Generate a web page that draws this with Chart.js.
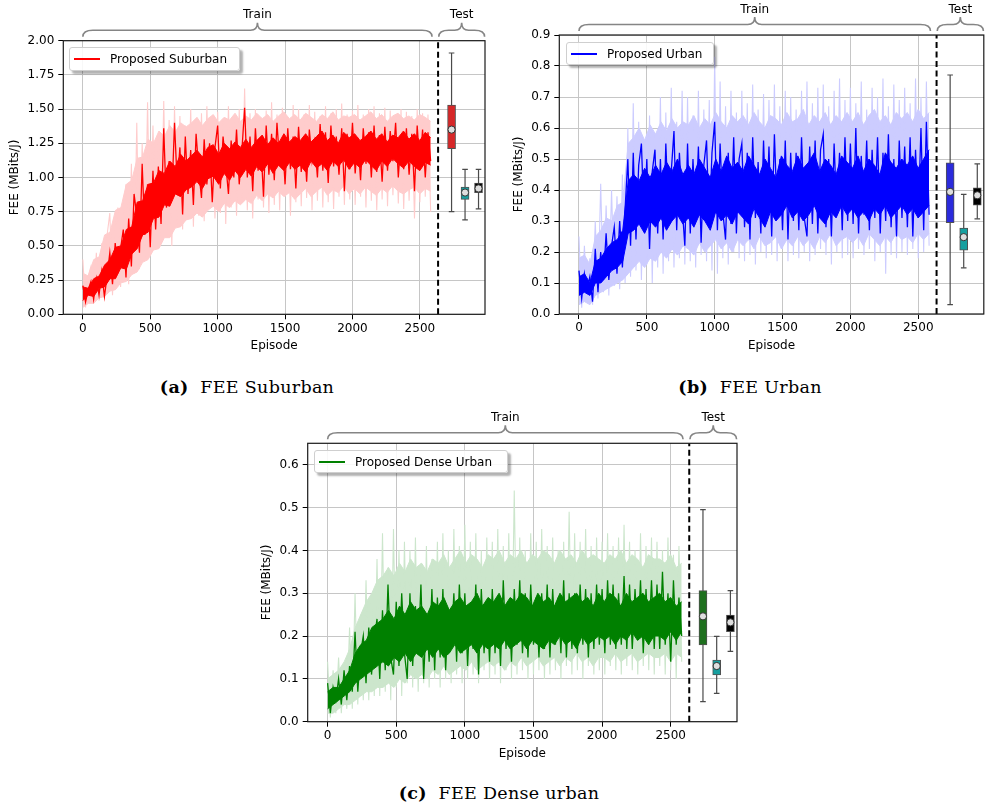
<!DOCTYPE html>
<html><head><meta charset="utf-8">
<script src="https://cdn.jsdelivr.net/npm/chart.js@4.4.1/dist/chart.umd.min.js"></script>
<style>
body{margin:0;width:989px;height:810px;background:#fff;position:relative;overflow:hidden;font-family:"DejaVu Sans",sans-serif;}
canvas{position:absolute;}
.leg{position:absolute;background:rgba(255,255,255,0.88);border:1px solid #cfcfcf;border-radius:3px;box-shadow:3px 3px 2px rgba(0,0,0,0.3);font-size:12px;box-sizing:border-box;display:flex;align-items:center;color:#000;white-space:nowrap;}
.leg .ln{width:26px;height:2px;margin:0 10px 0 4px;flex:none;}
.cap{position:absolute;font-family:"DejaVu Serif",serif;font-size:17.5px;letter-spacing:0.3px;line-height:20px;text-align:center;white-space:nowrap;width:300px;color:#000;}
.cap b{font-weight:bold;}
</style></head><body>
<canvas id="cA" width="500" height="360" style="left:0;top:0"></canvas>
<canvas id="cB" width="489" height="360" style="left:500px;top:0"></canvas>
<canvas id="cC" width="500" height="370" style="left:250px;top:400px"></canvas>
<div class="leg" style="left:69px;top:47px;width:171px;height:24px"><span class="ln" style="background:#ff0000"></span>Proposed Suburban</div>
<div class="leg" style="left:566px;top:42px;width:148px;height:23px"><span class="ln" style="background:#0000ff"></span>Proposed Urban</div>
<div class="leg" style="left:314px;top:450px;width:194px;height:23px"><span class="ln" style="background:#008000"></span>Proposed Dense Urban</div>
<div class="cap" style="left:97px;top:377px"><b>(a)</b>&nbsp; FEE Suburban</div>
<div class="cap" style="left:600px;top:377px"><b>(b)</b>&nbsp; FEE Urban</div>
<div class="cap" style="left:349px;top:783px"><b>(c)</b>&nbsp; FEE Dense urban</div>
<script>
// ---------------- data ----------------
const STEP = 20;          // episodes between stored spike samples
const ENV_STEP = 40.3125; // episodes between stored band-envelope samples
const episodeTicks = [0, 500, 1000, 1500, 2000, 2500];
const yTicksSuburban = [0, 0.25, 0.5, 0.75, 1.0, 1.25, 1.5, 1.75, 2.0];
const yTicksUrban = [0, 0.1, 0.2, 0.3, 0.4, 0.5, 0.6, 0.7, 0.8, 0.9];
const yTicksDense = [0, 0.1, 0.2, 0.3, 0.4, 0.5, 0.6];
const splitEpisode = 2635;
const trainBrace = [0, 2590];
const testBrace = [2640, 2980];
const testPositions = [2735, 2835, 2935];

// ---- Suburban ----
const suburbanDark = [
0.21,0.09,0.18,0.24,0.11,0.26,0.14,0.31,0.13,0.28,
0.45,0.22,0.52,0.30,0.48,0.62,0.27,0.70,0.35,0.88,
0.72,0.45,1.10,0.58,0.95,0.49,1.05,0.62,1.08,0.66,
1.36,0.78,1.12,0.85,1.40,0.95,1.22,0.73,1.30,0.88,
1.20,0.80,1.32,1.05,0.85,1.28,0.95,1.25,0.82,1.22,
1.38,0.92,1.30,1.10,0.88,1.27,1.00,1.35,0.95,1.20,
1.51,1.00,1.30,0.90,1.36,1.05,1.25,0.86,1.38,1.02,
1.32,0.98,1.40,1.10,1.28,0.95,1.36,1.06,1.30,0.92,
1.37,1.04,1.30,0.97,1.35,1.12,1.26,1.00,1.39,1.05,
1.33,0.96,1.38,1.08,1.30,1.02,1.36,0.90,1.32,1.06,
1.40,1.03,1.29,0.98,1.36,1.10,1.33,1.00,1.38,1.04,
1.31,0.97,1.37,1.05,1.34,1.12,1.40,1.00,1.30,1.06,
1.36,1.02,1.32,0.90,1.38,1.08,1.35,1.00,1.33,1.12];
const suburbanRaw = [
0.40,0.05,0.28,0.35,0.08,0.45,0.10,0.52,0.18,0.58,
0.74,0.14,0.62,0.78,0.20,0.70,0.95,0.22,1.10,0.30,
1.40,0.33,1.25,0.42,1.55,0.48,1.38,0.58,1.30,0.52,
1.56,0.60,1.42,0.50,1.52,0.66,1.45,0.62,1.38,0.70,
1.50,0.64,1.40,0.72,1.47,0.68,1.52,0.80,1.44,0.70,
1.48,0.74,1.42,0.66,1.52,0.78,1.45,0.72,1.50,0.82,
1.65,0.76,1.47,0.70,1.50,0.84,1.44,0.78,1.49,0.74,
1.55,0.80,1.46,0.76,1.51,0.86,1.44,0.72,1.53,0.82,
1.50,0.79,1.46,0.85,1.53,0.76,1.48,0.83,1.45,0.78,
1.52,0.82,1.47,0.77,1.50,0.86,1.54,0.80,1.46,0.84,
1.49,0.80,1.53,0.86,1.46,0.78,1.50,0.83,1.52,0.76,
1.47,0.84,1.51,0.79,1.49,0.87,1.45,0.81,1.50,0.77,
1.48,0.83,1.45,0.70,1.50,0.82,1.47,0.86,1.46,0.75];
const suburbanDarkUpper = [
0.20,0.19,0.26,0.28,0.36,0.40,0.49,0.50,0.62,0.64,
0.82,0.83,0.95,0.96,1.05,1.03,1.12,1.08,1.17,1.12,
1.16,1.20,1.15,1.22,1.24,1.17,1.25,1.21,1.26,1.22,
1.28,1.22,1.27,1.31,1.24,1.29,1.25,1.32,1.26,1.30,
1.27,1.32,1.26,1.30,1.34,1.27,1.31,1.25,1.33,1.29,
1.32,1.27,1.30,1.34,1.28,1.32,1.26,1.31,1.29,1.34,
1.28,1.32,1.27,1.33,1.29];
const suburbanDarkLower = [
0.10,0.14,0.13,0.19,0.20,0.26,0.26,0.34,0.33,0.44,
0.48,0.58,0.60,0.70,0.71,0.80,0.79,0.88,0.86,0.91,
0.93,0.97,0.92,0.99,1.01,0.95,1.03,0.98,1.05,1.00,
1.06,1.01,1.08,1.04,1.10,1.03,1.09,1.05,1.11,1.06,
1.09,1.04,1.12,1.07,1.10,1.05,1.12,1.08,1.13,1.06,
1.11,1.07,1.13,1.09,1.05,1.12,1.08,1.14,1.10,1.07,
1.12,1.08,1.05,1.11,1.09];
const suburbanRawUpper = [
0.30,0.28,0.40,0.42,0.58,0.60,0.76,0.78,0.95,0.98,
1.14,1.15,1.28,1.25,1.34,1.30,1.38,1.33,1.40,1.37,
1.40,1.44,1.38,1.43,1.46,1.40,1.44,1.42,1.47,1.41,
1.45,1.42,1.47,1.43,1.46,1.41,1.45,1.48,1.43,1.46,
1.42,1.47,1.44,1.41,1.46,1.43,1.48,1.42,1.45,1.44,
1.46,1.42,1.45,1.48,1.43,1.46,1.41,1.45,1.47,1.43,
1.45,1.42,1.46,1.44,1.41];
const suburbanRawLower = [
0.05,0.08,0.08,0.12,0.13,0.17,0.18,0.23,0.24,0.29,
0.31,0.38,0.40,0.47,0.48,0.56,0.56,0.63,0.64,0.69,
0.70,0.74,0.71,0.76,0.79,0.75,0.81,0.78,0.83,0.80,
0.84,0.81,0.87,0.83,0.88,0.85,0.90,0.86,0.89,0.84,
0.88,0.92,0.86,0.90,0.93,0.87,0.91,0.89,0.94,0.88,
0.92,0.88,0.93,0.90,0.87,0.92,0.89,0.94,0.90,0.88,
0.91,0.93,0.88,0.92,0.90];

// ---- Urban ----
const urbanDark = [
0.14,0.05,0.13,0.08,0.12,0.04,0.21,0.07,0.20,0.11,
0.26,0.11,0.22,0.28,0.13,0.30,0.15,0.34,0.50,0.22,
0.52,0.24,0.48,0.55,0.30,0.50,0.21,0.46,0.53,0.26,
0.50,0.24,0.55,0.32,0.46,0.59,0.27,0.52,0.35,0.22,
0.55,0.26,0.50,0.30,0.54,0.23,0.48,0.56,0.28,0.52,
0.62,0.27,0.55,0.33,0.24,0.52,0.29,0.57,0.26,0.50,
0.55,0.28,0.52,0.24,0.57,0.31,0.49,0.26,0.56,0.30,
0.54,0.25,0.58,0.33,0.50,0.27,0.56,0.24,0.52,0.30,
0.52,0.27,0.57,0.31,0.25,0.54,0.29,0.56,0.26,0.53,
0.58,0.28,0.50,0.25,0.55,0.32,0.52,0.27,0.57,0.30,
0.55,0.29,0.60,0.26,0.51,0.32,0.56,0.27,0.53,0.31,
0.57,0.26,0.52,0.30,0.58,0.28,0.50,0.25,0.56,0.31,
0.54,0.28,0.57,0.25,0.53,0.31,0.60,0.27,0.62,0.32];
const urbanRaw = [
0.25,0.02,0.22,0.04,0.18,0.03,0.30,0.05,0.42,0.07,
0.35,0.06,0.40,0.09,0.38,0.08,0.45,0.10,0.60,0.12,
0.68,0.14,0.62,0.11,0.55,0.16,0.64,0.10,0.58,0.15,
0.70,0.13,0.65,0.17,0.73,0.15,0.62,0.18,0.72,0.16,
0.70,0.17,0.64,0.15,0.72,0.19,0.66,0.17,0.69,0.14,
0.83,0.13,0.75,0.18,0.67,0.16,0.72,0.20,0.65,0.18,
0.72,0.17,0.68,0.19,0.74,0.16,0.66,0.20,0.71,0.18,
0.69,0.19,0.74,0.17,0.67,0.21,0.72,0.17,0.70,0.19,
0.66,0.18,0.72,0.20,0.75,0.17,0.68,0.19,0.73,0.21,
0.74,0.19,0.67,0.16,0.72,0.20,0.76,0.18,0.69,0.19,
0.73,0.18,0.68,0.21,0.75,0.19,0.66,0.21,0.73,0.17,
0.70,0.20,0.76,0.13,0.67,0.19,0.74,0.18,0.69,0.20,
0.73,0.19,0.68,0.21,0.76,0.18,0.70,0.20,0.75,0.22];
const urbanDarkUpper = [
0.12,0.13,0.10,0.17,0.18,0.21,0.23,0.24,0.27,0.43,
0.45,0.43,0.47,0.44,0.48,0.45,0.49,0.46,0.50,0.45,
0.48,0.45,0.50,0.47,0.44,0.50,0.46,0.51,0.47,0.49,
0.46,0.51,0.48,0.45,0.50,0.47,0.44,0.51,0.48,0.46,
0.51,0.47,0.49,0.52,0.46,0.50,0.48,0.45,0.51,0.49,
0.47,0.51,0.46,0.50,0.48,0.45,0.52,0.49,0.47,0.50,
0.48,0.51,0.47,0.50,0.53];
const urbanDarkLower = [
0.06,0.07,0.06,0.10,0.10,0.12,0.14,0.15,0.17,0.26,
0.27,0.29,0.26,0.30,0.28,0.31,0.27,0.30,0.32,0.29,
0.31,0.28,0.32,0.30,0.27,0.33,0.30,0.32,0.29,0.33,
0.31,0.29,0.34,0.31,0.28,0.33,0.30,0.32,0.35,0.31,
0.33,0.30,0.32,0.35,0.31,0.29,0.33,0.31,0.35,0.32,
0.34,0.31,0.33,0.30,0.34,0.32,0.35,0.31,0.33,0.35,
0.32,0.34,0.31,0.33,0.35];
const urbanRawUpper = [
0.18,0.19,0.16,0.25,0.27,0.31,0.30,0.35,0.36,0.55,
0.57,0.60,0.56,0.61,0.58,0.62,0.59,0.63,0.60,0.62,
0.61,0.64,0.60,0.63,0.61,0.65,0.62,0.60,0.64,0.62,
0.64,0.61,0.65,0.62,0.60,0.64,0.63,0.61,0.65,0.62,
0.63,0.66,0.61,0.64,0.62,0.65,0.61,0.64,0.62,0.65,
0.62,0.65,0.61,0.64,0.66,0.62,0.64,0.61,0.65,0.63,
0.65,0.62,0.66,0.63,0.65];
const urbanRawLower = [
0.03,0.04,0.03,0.06,0.07,0.08,0.09,0.10,0.11,0.13,
0.15,0.17,0.15,0.18,0.17,0.20,0.18,0.21,0.19,0.22,
0.21,0.19,0.23,0.20,0.22,0.24,0.21,0.23,0.20,0.24,
0.22,0.24,0.21,0.25,0.22,0.23,0.25,0.21,0.24,0.22,
0.25,0.22,0.24,0.21,0.25,0.23,0.26,0.22,0.24,0.25,
0.23,0.25,0.22,0.26,0.24,0.22,0.25,0.23,0.26,0.24,
0.25,0.23,0.26,0.24,0.26];

// ---- Dense urban ----
const denseDark = [
0.09,0.02,0.08,0.05,0.10,0.04,0.12,0.05,0.13,0.07,
0.21,0.07,0.16,0.20,0.09,0.22,0.11,0.19,0.24,0.10,
0.26,0.12,0.32,0.15,0.11,0.28,0.13,0.30,0.16,0.10,
0.30,0.13,0.27,0.16,0.32,0.10,0.25,0.14,0.31,0.12,
0.29,0.15,0.31,0.12,0.26,0.17,0.30,0.14,0.32,0.16,
0.30,0.13,0.27,0.17,0.32,0.11,0.31,0.16,0.28,0.14,
0.31,0.16,0.29,0.13,0.33,0.17,0.28,0.14,0.31,0.18,
0.33,0.16,0.30,0.15,0.32,0.18,0.29,0.15,0.30,0.17,
0.32,0.15,0.31,0.18,0.29,0.16,0.33,0.15,0.30,0.17,
0.30,0.16,0.32,0.18,0.31,0.15,0.30,0.17,0.32,0.18,
0.31,0.16,0.33,0.18,0.32,0.17,0.30,0.18,0.34,0.17,
0.32,0.17,0.31,0.19,0.33,0.16,0.31,0.18,0.33,0.17,
0.32,0.17,0.35,0.18,0.30,0.14,0.33,0.18,0.29,0.20];
const denseRaw = [
0.14,0.01,0.12,0.02,0.15,0.02,0.13,0.03,0.22,0.03,
0.30,0.04,0.25,0.05,0.33,0.05,0.28,0.06,0.38,0.06,
0.44,0.07,0.36,0.05,0.45,0.08,0.40,0.06,0.42,0.09,
0.40,0.08,0.43,0.07,0.37,0.09,0.41,0.08,0.38,0.10,
0.42,0.08,0.44,0.10,0.40,0.09,0.45,0.11,0.41,0.09,
0.46,0.10,0.42,0.11,0.44,0.09,0.40,0.12,0.43,0.10,
0.42,0.11,0.45,0.09,0.41,0.12,0.44,0.10,0.54,0.11,
0.43,0.12,0.40,0.10,0.44,0.11,0.42,0.12,0.45,0.10,
0.41,0.11,0.43,0.12,0.40,0.10,0.42,0.13,0.49,0.11,
0.44,0.12,0.42,0.10,0.45,0.13,0.41,0.11,0.43,0.12,
0.42,0.11,0.44,0.13,0.41,0.12,0.43,0.11,0.46,0.13,
0.42,0.12,0.40,0.11,0.44,0.13,0.41,0.12,0.43,0.11,
0.42,0.13,0.40,0.11,0.43,0.12,0.39,0.10,0.41,0.14];
const denseDarkUpper = [
0.07,0.08,0.08,0.10,0.12,0.16,0.18,0.19,0.22,0.23,
0.24,0.26,0.24,0.27,0.25,0.28,0.26,0.27,0.25,0.28,
0.27,0.29,0.26,0.28,0.29,0.27,0.28,0.30,0.27,0.29,
0.28,0.30,0.27,0.29,0.28,0.30,0.29,0.27,0.30,0.28,
0.29,0.27,0.30,0.28,0.29,0.30,0.28,0.29,0.27,0.30,
0.28,0.30,0.29,0.27,0.30,0.28,0.29,0.30,0.28,0.29,
0.30,0.28,0.29,0.27,0.28];
const denseDarkLower = [
0.03,0.04,0.05,0.06,0.07,0.09,0.10,0.11,0.12,0.13,
0.14,0.13,0.15,0.14,0.16,0.14,0.16,0.15,0.17,0.15,
0.17,0.15,0.16,0.18,0.16,0.17,0.18,0.16,0.18,0.17,
0.18,0.17,0.19,0.17,0.18,0.19,0.17,0.19,0.18,0.17,
0.19,0.18,0.20,0.18,0.19,0.17,0.20,0.18,0.19,0.20,
0.19,0.20,0.18,0.20,0.19,0.21,0.19,0.20,0.18,0.20,
0.20,0.19,0.21,0.19,0.21];
const denseRawUpper = [
0.10,0.11,0.12,0.14,0.17,0.22,0.25,0.28,0.30,0.33,
0.34,0.36,0.34,0.37,0.35,0.38,0.36,0.37,0.35,0.38,
0.37,0.39,0.36,0.38,0.40,0.37,0.39,0.38,0.36,0.39,
0.38,0.40,0.37,0.39,0.38,0.40,0.37,0.39,0.38,0.40,
0.39,0.37,0.40,0.38,0.39,0.37,0.40,0.38,0.39,0.38,
0.37,0.39,0.38,0.40,0.37,0.39,0.38,0.36,0.39,0.38,
0.38,0.37,0.39,0.36,0.37];
const denseRawLower = [
0.02,0.02,0.03,0.04,0.04,0.05,0.06,0.07,0.07,0.08,
0.08,0.09,0.08,0.10,0.09,0.11,0.10,0.11,0.10,0.12,
0.11,0.13,0.11,0.12,0.13,0.12,0.14,0.12,0.13,0.14,
0.13,0.14,0.12,0.14,0.13,0.15,0.13,0.14,0.15,0.13,
0.14,0.15,0.13,0.15,0.14,0.16,0.14,0.15,0.13,0.15,
0.15,0.14,0.16,0.14,0.15,0.16,0.14,0.15,0.16,0.15,
0.15,0.16,0.14,0.16,0.15];

// test box plots: [proposed, second, third]
const suburbanWhiskerLow  = [0.75, 0.69, 0.77];
const suburbanQ1          = [1.21, 0.84, 0.89];
const suburbanQ3          = [1.53, 0.93, 0.96];
const suburbanWhiskerHigh = [1.91, 1.06, 1.06];
const suburbanMean        = [1.35, 0.89, 0.92];

const urbanWhiskerLow  = [0.030, 0.149, 0.307];
const urbanQ1          = [0.295, 0.206, 0.351];
const urbanQ3          = [0.488, 0.277, 0.407];
const urbanWhiskerHigh = [0.771, 0.386, 0.484];
const urbanMean        = [0.394, 0.248, 0.383];

const denseWhiskerLow  = [0.047, 0.066, 0.164];
const denseQ1          = [0.179, 0.109, 0.210];
const denseQ3          = [0.306, 0.144, 0.249];
const denseWhiskerHigh = [0.495, 0.199, 0.306];
const denseMean        = [0.246, 0.130, 0.232];

// ---------------- drawing ----------------
Chart.defaults.font.family = "'DejaVu Sans', sans-serif";
Chart.defaults.font.size = 12;
Chart.defaults.color = '#000';

function drawBrace(ctx, xa, xb, top, label) {
  const yEnd = top - 4, yFlat = top - 10.5, yTip = top - 18, rE = 10, rM = 7;
  const xm = (xa + xb) / 2;
  ctx.beginPath();
  ctx.moveTo(xa, yEnd);
  ctx.quadraticCurveTo(xa, yFlat, xa + rE, yFlat);
  ctx.lineTo(xm - rM, yFlat);
  ctx.quadraticCurveTo(xm, yFlat, xm, yTip);
  ctx.quadraticCurveTo(xm, yFlat, xm + rM, yFlat);
  ctx.lineTo(xb - rE, yFlat);
  ctx.quadraticCurveTo(xb, yFlat, xb, yEnd);
  ctx.strokeStyle = '#858585';
  ctx.lineWidth = 1.6;
  ctx.stroke();
  ctx.fillStyle = '#000';
  ctx.font = "12px 'DejaVu Sans'";
  ctx.textAlign = 'center';
  ctx.textBaseline = 'middle';
  ctx.fillText(label, xm, top - 25.5);
}

const decorPlugin = {
  id: 'decor',
  afterDraw(chart) {
    const {ctx, chartArea: a, scales: {x}} = chart;
    ctx.save();
    const dx = x.getPixelForValue(splitEpisode);
    ctx.strokeStyle = '#000';
    ctx.lineWidth = 2;
    ctx.setLineDash([6, 3.5]);
    ctx.beginPath(); ctx.moveTo(dx, a.bottom); ctx.lineTo(dx, a.top); ctx.stroke();
    ctx.setLineDash([]);
    ctx.lineWidth = 1.2;
    ctx.strokeStyle = '#1a1a1a';
    ctx.strokeRect(a.left, a.top, a.right - a.left, a.bottom - a.top);
    drawBrace(ctx, x.getPixelForValue(trainBrace[0]), x.getPixelForValue(trainBrace[1]), a.top, 'Train');
    drawBrace(ctx, x.getPixelForValue(testBrace[0]), x.getPixelForValue(testBrace[1]), a.top, 'Test');
    ctx.restore();
  }
};

function build(id, geo, s) {
  const spikes = arr => arr.map((v, i) => ({x: i * STEP, y: v}));
  const env = arr => arr.map((v, i) => ({x: i * ENV_STEP, y: v}));
  const band = (up, lo, color, ord) => [
    {type: 'line', data: env(up), borderColor: color, backgroundColor: color, borderWidth: 1, pointRadius: 0, fill: '+1', order: ord},
    {type: 'line', data: env(lo), borderColor: color, borderWidth: 1, pointRadius: 0, fill: false, order: ord}
  ];
  const datasets = [
    {type: 'line', data: spikes(s.dark), borderColor: s.darkColor, borderWidth: 1.3, pointRadius: 0, order: 2},
    ...band(s.darkUp, s.darkLo, s.darkColor, 3),
    {type: 'line', data: spikes(s.raw), borderColor: s.lightColor, borderWidth: 1.1, pointRadius: 0, order: 4},
    ...band(s.rawUp, s.rawLo, s.lightColor, 5)
  ];
  testPositions.forEach((p, k) => {
    datasets.push({type: 'line', data: [{x: p, y: s.lo[k]}, {x: p, y: s.hi[k]}], borderColor: '#4a4a4a', borderWidth: 1.2, pointRadius: 0, order: 1});
  });
  datasets.push({type: 'scatter', data: testPositions.flatMap((p, k) => [{x: p, y: s.lo[k]}, {x: p, y: s.hi[k]}]),
    pointStyle: 'line', pointRadius: 2.8, borderColor: '#4a4a4a', borderWidth: 1.2, order: 1});
  datasets.push({type: 'bar', data: testPositions.map((p, k) => ({x: p, y: [s.q1[k], s.q3[k]]})),
    backgroundColor: s.boxColors, borderColor: '#505050', borderWidth: 1, borderSkipped: false,
    barThickness: 8, grouped: false, order: 0});
  datasets.push({type: 'scatter', data: testPositions.map((p, k) => ({x: p, y: s.mean[k]})),
    pointStyle: 'circle', pointRadius: 3.6, backgroundColor: '#dedede', borderColor: '#333', borderWidth: 1, order: -1});

  const gridCommon = {color: '#c6c6c6', lineWidth: 1, tickColor: '#000', tickLength: 5, tickWidth: 1, offset: false};
  new Chart(document.getElementById(id), {
    type: 'line',
    data: {datasets},
    options: {
      responsive: false, animation: false, devicePixelRatio: 1,
      layout: {padding: geo.pad},
      plugins: {legend: {display: false}, tooltip: {enabled: false}, filler: {propagate: false}},
      scales: {
        x: {
          type: 'linear', min: -145, max: 2983, offset: false,
          afterBuildTicks: sc => { sc.ticks = episodeTicks.map(v => ({value: v})); },
          afterFit: sc => { sc.height = 40; },
          ticks: {autoSkip: false, maxRotation: 0, color: '#000', padding: 2, callback: v => String(v)},
          grid: gridCommon,
          border: {display: false},
          title: {display: true, text: 'Episode', color: '#000', font: {size: 12}, padding: {top: 0, bottom: 0.8}}
        },
        y: {
          type: 'linear', min: 0, max: s.ymax,
          afterBuildTicks: sc => { sc.ticks = s.yTicks.map(v => ({value: v})); },
          afterFit: sc => { sc.width = geo.yw; },
          ticks: {color: '#000', padding: 4, callback: v => Number(v).toFixed(s.dec)},
          grid: gridCommon,
          border: {display: false},
          title: {display: true, text: 'FEE (MBits/J)', color: '#000', font: {size: 12}, padding: {top: geo.tp, bottom: 0}}
        }
      }
    },
    plugins: [decorPlugin]
  });
}

build('cA', {pad: {left: 0, top: 40.7, right: 15, bottom: 5.7}, yw: 63.3, tp: 7.5}, {
  dark: suburbanDark, raw: suburbanRaw, darkUp: suburbanDarkUpper, darkLo: suburbanDarkLower,
  rawUp: suburbanRawUpper, rawLo: suburbanRawLower, darkColor: '#ff0000', lightColor: '#ffcccc',
  lo: suburbanWhiskerLow, q1: suburbanQ1, q3: suburbanQ3, hi: suburbanWhiskerHigh, mean: suburbanMean,
  boxColors: ['#d62728', '#17a0a0', '#000000'], ymax: 2.0, yTicks: yTicksSuburban, dec: 2});
build('cB', {pad: {left: 0, top: 35, right: 0.7, bottom: 6}, yw: 59.3, tp: 11.5}, {
  dark: urbanDark, raw: urbanRaw, darkUp: urbanDarkUpper, darkLo: urbanDarkLower,
  rawUp: urbanRawUpper, rawLo: urbanRawLower, darkColor: '#0000ff', lightColor: '#ccccff',
  lo: urbanWhiskerLow, q1: urbanQ1, q3: urbanQ3, hi: urbanWhiskerHigh, mean: urbanMean,
  boxColors: ['#2b2bdc', '#17a0a0', '#000000'], ymax: 0.9, yTicks: yTicksUrban, dec: 1});
build('cC', {pad: {left: 0, top: 43.3, right: 13, bottom: 8.3}, yw: 57.7, tp: 9.3}, {
  dark: denseDark, raw: denseRaw, darkUp: denseDarkUpper, darkLo: denseDarkLower,
  rawUp: denseRawUpper, rawLo: denseRawLower, darkColor: '#008000', lightColor: '#cce6cc',
  lo: denseWhiskerLow, q1: denseQ1, q3: denseQ3, hi: denseWhiskerHigh, mean: denseMean,
  boxColors: ['#1e701e', '#17a0a0', '#000000'], ymax: 0.65, yTicks: yTicksDense, dec: 1});
</script>
</body></html>
